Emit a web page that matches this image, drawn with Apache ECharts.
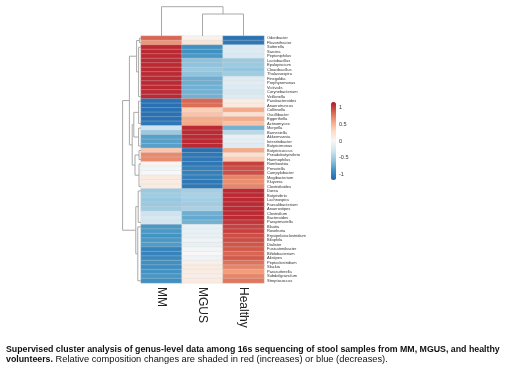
<!DOCTYPE html>
<html>
<head>
<meta charset="utf-8">
<script src="https://cdn.jsdelivr.net/npm/echarts@6/dist/echarts.min.js"></script>
<style>
html, body { margin: 0; padding: 0; background: #fff; }
#main { width: 520px; height: 379px; }
</style>
</head>
<body>
<div id="main"></div>
<script>
// 样本组
var groups = ['MM', 'MGUS', 'Healthy'];
// 菌属
var genera = ['Odoribacter', 'Flavonifractor', 'Sutterella', 'Sarcina', 'Peptoniphilus', 'Lactobacillus',
	'Epulopiscium', 'Cloacibacillus', 'Thalassospira', 'Finegoldia', 'Porphyromonas', 'Victivalis',
	'Corynebacterium', 'Veillonella', 'Parabacteroides', 'Anaerotruncus', 'Collinsella', 'Oscillibacter',
	'Eggerthella', 'Actinomyces', 'Moryella', 'Barnesiella', 'Akkermansia', 'Intestinibacter',
	'Butyricimonas', 'Butyricicoccus', 'Pseudobutyrivibrio', 'Haemophilus', 'Romboutsia', 'Prevotella',
	'Campylobacter', 'Mogibacterium', 'Kluyvera', 'Clostridioides', 'Dorea', 'Butyrivibrio',
	'Lachnospira', 'Faecalibacterium', 'Anaerostipes', 'Clostridium', 'Bacteroides', 'Paraprevotella',
	'Blautia', 'Roseburia', 'Erysipelatoclostridium', 'Bilophila', 'Dialister', 'Fusicatenibacter',
	'Bifidobacterium', 'Alistipes', 'Peptoclostridium', 'Slackia', 'Parasutterella', 'Subdoligranulum',
	'Streptococcus'];
var mmValues = [0.85, 0.65, 1.1, 1.1, 1.1, 1.1, 1.1, 1.1, 1.1, 1.1, 1.1, 1.1, 1.1, 1.1,
	-1.1, -1.1, -1.1, -1.1, -1.1, -1.05, -0.3, -0.55, -0.8, -0.8, -0.8, 0.4, 0.7, 0.7,
	0.03, -0.04, 0.0, 0.15, 0.12, 0.12, -0.55, -0.52, -0.56, -0.55, -0.52, -0.3, -0.25, -0.28,
	-0.85, -0.85, -0.88, -0.85, -0.83, -0.98, -0.98, -0.95, -0.9, -0.92, -0.88, -0.86, -0.9];
var mgusValues = [0.06, 0.2, -0.9, -0.9, -0.85, -0.6, -0.6, -0.55, -0.6, -0.72, -0.72, -0.7, -0.7, -0.7,
	0.85, 0.82, 0.35, 0.42, 0.55, 0.55, 1.1, 1.1, 1.1, 1.1, 1.1, -1.1, -1.05, -1.05,
	-1.05, -1.0, -1.0, -1.0, -1.05, -1.05, -0.5, -0.48, -0.5, -0.52, -0.48, -0.72, -0.75, -0.7,
	-0.12, -0.1, -0.12, -0.06, -0.12, -0.03, 0.0, -0.06, 0.08, 0.14, 0.12, 0.1, 0.14];
var healthyValues = [-1.1, -1.05, -0.2, -0.2, -0.22, -0.55, -0.55, -0.58, -0.52, -0.2, -0.16, -0.2, -0.25, -0.2,
	0.12, 0.15, 0.55, 0.25, 0.55, 0.42, -0.7, -0.4, -0.12, -0.15, -0.18, 0.55, 0.25, 0.38,
	1.0, 0.95, 0.95, 0.72, 0.68, 0.72, 1.1, 1.1, 1.1, 1.1, 1.1, 1.1, 1.1, 1.05,
	1.0, 1.0, 0.95, 0.95, 0.92, 0.9, 0.85, 0.9, 0.8, 0.72, 0.62, 0.72, 0.78];
var scaleTicks = [-1, -0.5, 0, 0.5, 1];

// 列聚类 [左, 右, 高度]，叶子 0..2，合并节点从 3 开始
var colMerges = [[1, 2, 0.75], [0, 3, 1.0]];
// 行聚类：叶子簇 [起始行, 结束行, 高度]
var rowLeaves = [[0, 1, 0.4], [2, 13, 0.6], [14, 19, 0.6], [20, 24, 0.6],
	[25, 27, 0.5], [28, 33, 0.5], [34, 41, 0.7], [42, 54, 0.8]];
var rowMerges = [[0, 1, 1.1], [2, 3, 1.8], [4, 5, 1.5], [6, 7, 1.3], [9, 10, 2.2], [8, 12, 2.9], [13, 11, 4.6]];

var heatData = [];
[mmValues, mgusValues, healthyValues].forEach(function(arr, c) {
	arr.forEach(function(v, r) {
		heatData.push([c, r, v]);
	});
});

// 树状图线段
function treeSegments(leafPos, leafH, merges, horiz) {
	var pos = leafPos.slice(), h = leafH.slice(), segs = [];
	merges.forEach(function(m) {
		var a = m[0], b = m[1], t = m[2];
		segs.push([pos[a], h[a], pos[a], t]);
		segs.push([pos[a], t, pos[b], t]);
		segs.push([pos[b], t, pos[b], h[b]]);
		pos.push((pos[a] + pos[b]) / 2);
		h.push(t);
	});
	if (horiz) {
		segs = segs.map(function(s) { return [s[1], s[0], s[3], s[2]]; });
	}
	return segs;
}
var colSegs = treeSegments([0.5, 1.5, 2.5], [0, 0, 0], colMerges, false);
var rowSegs = [];
rowLeaves.forEach(function(l) {
	var y1 = l[0] + 0.5, y2 = l[1] + 0.5;
	rowSegs.push([0, y1, l[2], y1]);
	rowSegs.push([l[2], y1, l[2], y2]);
	rowSegs.push([l[2], y2, 0, y2]);
});
rowSegs = rowSegs.concat(treeSegments(
	rowLeaves.map(function(l) { return (l[0] + l[1]) / 2 + 0.5; }),
	rowLeaves.map(function(l) { return l[2]; }),
	rowMerges, true));

function segRender(params, api) {
	var p1 = api.coord([api.value(0), api.value(1)]);
	var p2 = api.coord([api.value(2), api.value(3)]);
	return {
		type: 'line',
		shape: { x1: p1[0], y1: p1[1], x2: p2[0], y2: p2[1] },
		style: { stroke: '#a8a8a8', lineWidth: 1 }
	};
}

var hidden = { show: false };
var myChart = echarts.init(document.getElementById('main'));
var option = {
	backgroundColor: '#fff',
	animation: false,
	textStyle: { fontFamily: 'Liberation Sans, Arial, sans-serif' },
	grid: [
		{ left: 141, top: 36, width: 123, height: 247 },
		{ left: 141, top: 6.7, width: 123, height: 29.3 },
		{ left: 121, top: 36, width: 20, height: 247 },
		{ left: 331, top: 102, width: 5, height: 78 }
	],
	xAxis: [
		{
			gridIndex: 0, type: 'category', data: groups, position: 'bottom',
			axisLine: hidden, axisTick: hidden, splitLine: hidden,
			axisLabel: { rotate: -90, fontSize: 12, color: '#222', margin: 4 }
		},
		{ gridIndex: 1, type: 'value', min: 0, max: 3, show: false },
		{ gridIndex: 2, type: 'value', min: 0, max: 5, inverse: true, show: false },
		{ gridIndex: 3, type: 'value', min: 0, max: 1, show: false }
	],
	yAxis: [
		{
			gridIndex: 0, type: 'category', data: genera, inverse: true, position: 'right',
			axisLine: hidden, axisTick: hidden, splitLine: hidden,
			axisLabel: { interval: 0, fontSize: 4, color: '#333', margin: 3 }
		},
		{ gridIndex: 1, type: 'value', min: 0, max: 1, show: false },
		{ gridIndex: 2, type: 'value', min: 0, max: 55, inverse: true, show: false },
		{
			gridIndex: 3, type: 'value', min: -1.17, max: 1.17, position: 'right',
			axisLine: hidden, axisTick: hidden, splitLine: hidden,
			axisLabel: { customValues: scaleTicks, fontSize: 5.5, color: '#333', margin: 3 }
		}
	],
	visualMap: {
		type: 'continuous', min: -1.17, max: 1.17, calculable: false,
		orient: 'vertical', left: 331, top: 102, itemWidth: 5, itemHeight: 78,
		padding: 0, seriesIndex: 0,
		inRange: { color: ['#2166ac', '#4393c3', '#92c5de', '#d1e5f0', '#f7f7f7', '#fddbc7', '#f4a582', '#d6604d', '#b2182b'] }
	},
	graphic: [{
		type: 'text', left: 6, top: 345,
		style: {
			text: '{b|Supervised cluster analysis of genus-level data among 16s sequencing of stool samples from MM, MGUS, and healthy}\n{b|volunteers.} Relative composition changes are shaded in red (increases) or blue (decreases).',
			font: '9.3px Liberation Sans, Arial, sans-serif', fill: '#111', lineHeight: 9.5,
			rich: { b: { fontWeight: 'bold', fontSize: 8.8, fill: '#111', lineHeight: 9.5 } }
		}
	}],
	series: [
		{
			type: 'heatmap', xAxisIndex: 0, yAxisIndex: 0, data: heatData,
			itemStyle: { borderColor: 'rgba(215,215,215,0.6)', borderWidth: 0.5 }
		},
		{ type: 'custom', xAxisIndex: 1, yAxisIndex: 1, data: colSegs, renderItem: segRender, silent: true },
		{ type: 'custom', xAxisIndex: 2, yAxisIndex: 2, data: rowSegs, renderItem: segRender, silent: true, clip: true }
	]
};
myChart.setOption(option);
</script>
</body>
</html>
